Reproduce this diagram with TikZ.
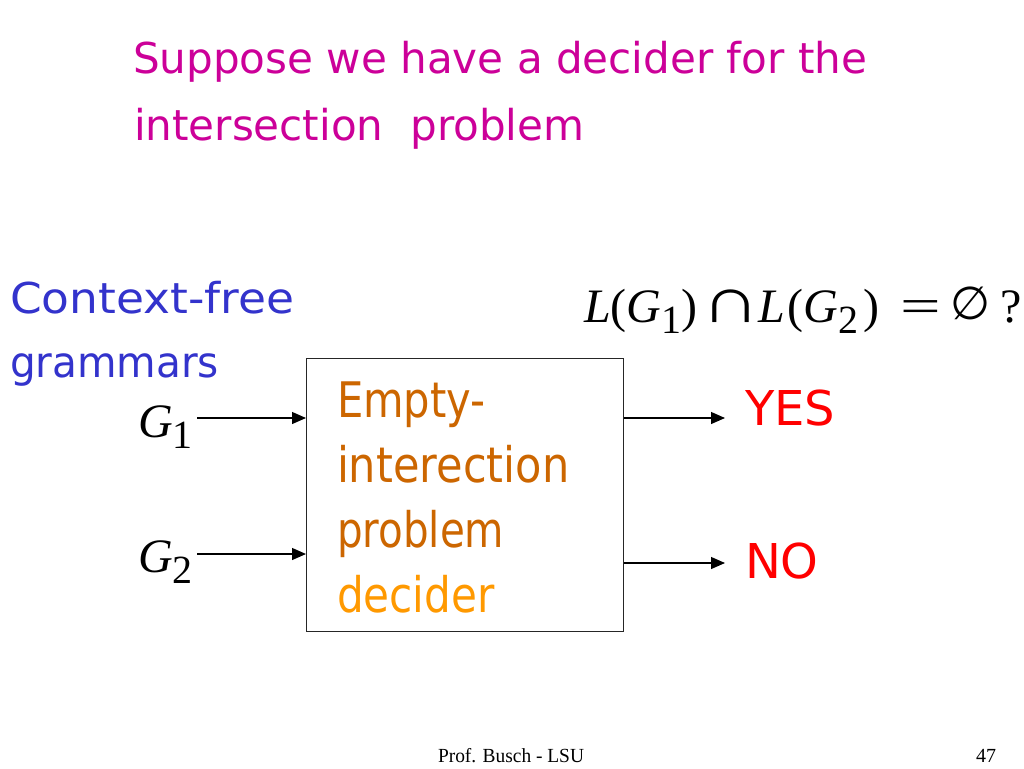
\documentclass[tikz,border=0pt]{standalone}
\usepackage{fontspec}
\usepackage{graphicx}
\setmainfont{Liberation Serif}
\newfontfamily\comic{DejaVu Sans}
\usetikzlibrary{arrows.meta}
\definecolor{titlec}{RGB}{204,0,153}
\definecolor{bluec}{RGB}{51,51,204}
\definecolor{darkor}{RGB}{204,102,0}
\definecolor{lightor}{RGB}{255,153,0}
\definecolor{redc}{RGB}{255,0,0}
\newcommand{\fsz}[1]{\fontsize{#1}{#1}\selectfont}
\newcommand{\hsc}[2]{\scalebox{#1}[1]{#2}}
\newcommand{\sbs}[1]{\raisebox{-11pt}{\fsz{40}#1}}
\newcommand{\seg}[2]{\makebox[#1pt][l]{#2}}
\begin{document}
\begin{tikzpicture}[x=1pt,y=-1pt,
  lbl/.style={anchor=base west,inner sep=0pt,outer sep=0pt},
  ttl/.style={lbl,text=titlec,font=\comic\fsz{42.5}},
  cfg/.style={lbl,text=bluec,font=\comic\fsz{42.5}},
  boxt/.style={lbl,text=darkor,font=\comic\fsz{49}},
  ans/.style={lbl,text=redc,font=\comic\fsz{48}},
  gram/.style={lbl,font=\fsz{48}},
  foot/.style={lbl,font=\fsz{20}},
  conn/.style={-{Triangle[length=14pt,width=12pt]},line width=1.2pt,black}
]
\useasboundingbox[fill=white] (0,0) rectangle (1024,768);

% title
\node[ttl] (t1) at (133,73) {\hsc{0.99}{Suppose we have a decider for the}};
\node[ttl] (t2) at (134,140) {\hsc{0.99}{intersection~ problem}};

% context-free grammars
\node[cfg] (cf1) at (10,313) {\hsc{1.07}{Context-free}};
\node[cfg] (cf2) at (10,377) {\hsc{0.955}{grammars}};

% formula
\node[gram] (eq) at (584,322) {\seg{117}{\textit{L}(\textit{G}\sbs{1})}\seg{57}{\scalebox{1.7}[1.35]{∩}}\seg{142}{\textit{L}\kern3pt(\textit{G}\sbs{2}\kern5pt)}\seg{50}{\hsc{1.5}{=}}\seg{50}{\raisebox{3pt}{\resizebox{40pt}{!}{\comic ∅}}}?};

% decider box
\node[draw=black!85,line width=1.3pt,minimum width=317pt,minimum height=273pt,anchor=north west,inner sep=0pt] (box) at (306,358) {};
\node[boxt] (b1) at (337,417) {\hsc{0.85}{Empty-}};
\node[boxt] (b2) at (337,482) {\hsc{0.88}{interection}};
\node[boxt] (b3) at (337,547) {\hsc{0.825}{problem}};
\node[boxt,text=lightor] (b4) at (337,612) {\hsc{0.86}{decider}};

% inputs
\node[gram] (g1) at (138,437) {\textit{G}\sbs{1}};
\node[gram] (g2) at (138,572) {\textit{G}\sbs{2}};
\coordinate (in1) at (197,418);
\coordinate (in2) at (197,554);
\draw[conn] (in1) -- (box.west |- in1);
\draw[conn] (in2) -- (box.west |- in2);

% outputs
\node[ans] (yes) at (745,425) {YES};
\node[ans] (no) at (745,578) {NO};
\coordinate (out1) at (725,418);
\coordinate (out2) at (725,563);
\draw[conn] (box.east |- out1) -- (out1);
\draw[conn] (box.east |- out2) -- (out2);

% footer
\node[foot] (ft) at (438,762) {\hsc{0.97}{Prof. Busch - LSU}};
\node[foot] (pg) at (976,762) {47};
\end{tikzpicture}
\end{document}
